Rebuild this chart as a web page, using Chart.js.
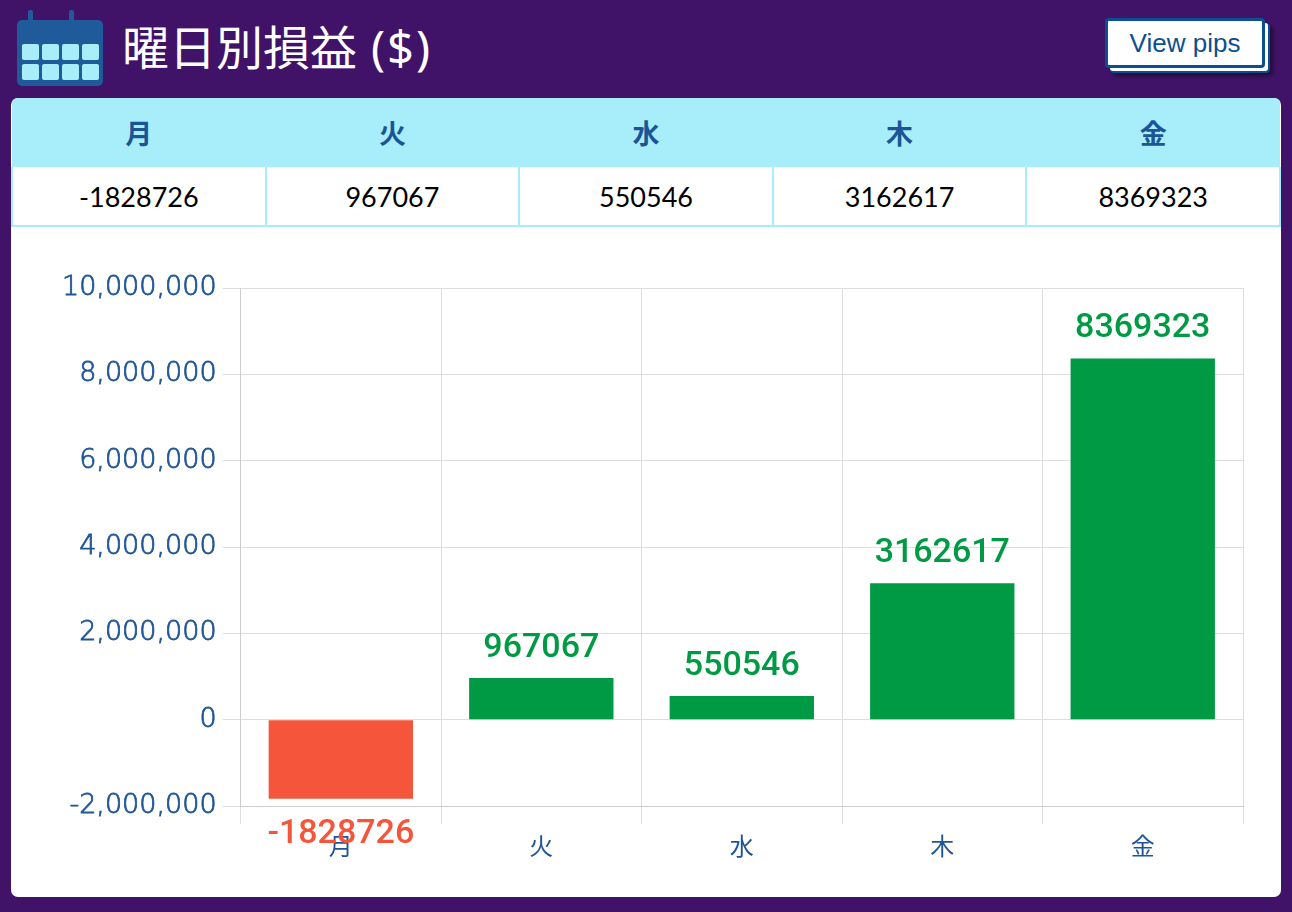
<!DOCTYPE html>
<html>
<head>
<meta charset="utf-8">
<script src="https://cdn.jsdelivr.net/npm/chart.js@4"></script>
<style>
  html, body { margin: 0; padding: 0; }
  body { width: 1292px; height: 912px; background: #411368; position: relative; overflow: hidden; font-family: "Noto Sans CJK JP", "Noto Sans", sans-serif; }
  .icon { position: absolute; left: 16px; top: 9px; }
  .title { position: absolute; left: 122px; top: 15px; color: #fff; font-size: 47px; line-height: 60px; font-family: "Noto Sans CJK JP", sans-serif; }
  .title span { font-family: "Noto Sans", sans-serif; font-weight: 400; margin-left: 14px; letter-spacing: 2px; }
  .btn { position: absolute; left: 1105px; top: 18px; width: 154px; height: 44px; background: #fff; border: 3px solid #0b4f8f; border-radius: 4px;
         box-shadow: 4px 4px 0 -1px #fff, 5px 5px 0 0 #0b4f8f, 8px 8px 4px rgba(0,0,0,0.45);
         color: #0b4f8f; font-family: "Liberation Sans", Arial, sans-serif; font-size: 26px; line-height: 44px; text-align: center; }
  .card { position: absolute; left: 11px; top: 98px; width: 1270px; height: 799px; background: #fff; border-radius: 7px; overflow: hidden; }
  table { border-collapse: collapse; width: 1270px; table-layout: fixed; }
  th { background: #a8eefa; color: #1b5596; height: 69px; font-size: 27px; font-weight: bold; font-family: "Noto Sans CJK JP", sans-serif; padding: 0; }
  td { height: 58px; border: 2px solid #a8eefa; border-top: none; text-align: center; font-size: 27px; color: #000; font-family: Lato, "Noto Sans", sans-serif; padding: 0; }
  .chartbox { position: absolute; left: 0; top: 129px; width: 1270px; height: 670px; }
</style>
</head>
<body>
<svg class="icon" width="90" height="80" viewBox="0 0 90 80">
  <rect x="1" y="11" width="86" height="66" rx="5" fill="#1f5a9a"/>
  <rect x="12" y="1" width="5" height="14" rx="2" fill="#1f5a9a"/>
  <rect x="53" y="1" width="5" height="14" rx="2" fill="#1f5a9a"/>
  <g fill="#a8eefa">
    <rect x="6" y="35" width="17" height="16" rx="2"/><rect x="26" y="35" width="17" height="16" rx="2"/>
    <rect x="46" y="35" width="17" height="16" rx="2"/><rect x="66" y="35" width="17" height="16" rx="2"/>
    <rect x="6" y="55" width="17" height="16" rx="2"/><rect x="26" y="55" width="17" height="16" rx="2"/>
    <rect x="46" y="55" width="17" height="16" rx="2"/><rect x="66" y="55" width="17" height="16" rx="2"/>
  </g>
</svg>
<div class="title">曜日別損益<span>($)</span></div>
<div class="btn">View pips</div>
<div class="card">
  <table>
    <thead><tr id="hdr"></tr></thead>
    <tbody><tr id="vals"></tr></tbody>
  </table>
  <div class="chartbox"><canvas id="grafico"></canvas></div>
</div>
<script>
// dados do gráfico
var dias = ["月", "火", "水", "木", "金"];
var lucros = [-1828726, 967067, 550546, 3162617, 8369323];
var y_min = -2000000;
var y_max = 10000000;
var y_passo = 2000000;

var verde = '#009a44';
var vermelho = '#f5553a';
var azul = '#1f5597';

// tabela
var hdr = document.getElementById("hdr");
var vals = document.getElementById("vals");
dias.forEach((d, i) => {
    var th = document.createElement("th");
    th.textContent = d;
    hdr.appendChild(th);
    var td = document.createElement("td");
    td.textContent = lucros[i];
    vals.appendChild(td);
});

// rótulos em cima das barras
var rotulos = {
    id: 'rotulos',
    afterDatasetsDraw(chart) {
        var ctx = chart.ctx;
        var meta = chart.getDatasetMeta(0);
        ctx.save();
        ctx.font = '500 34px Roboto, "Liberation Sans", sans-serif';
        ctx.textAlign = 'center';
        ctx.textBaseline = 'middle';
        meta.data.forEach((bar, i) => {
            var v = lucros[i];
            ctx.fillStyle = v < 0 ? vermelho : verde;
            ctx.fillText(String(v), bar.x, v < 0 ? bar.y + 36 : bar.y - 30);
        });
        ctx.restore();
    }
};

var grafico = new Chart(document.getElementById("grafico"), {
    type: 'bar',
    data: {
        labels: dias,
        datasets: [{
            data: lucros,
            backgroundColor: lucros.map(v => v < 0 ? vermelho : verde),
            borderWidth: 0
        }]
    },
    options: {
        responsive: true,
        maintainAspectRatio: false,
        animation: false,
        layout: { padding: { top: 61, left: 45, right: 38, bottom: 30 } },
        plugins: {
            legend: { display: false },
            tooltip: { enabled: false }
        },
        scales: {
            x: {
                grid: { color: '#dedede', tickLength: 18 },
                border: { color: '#cccccc' },
                ticks: { color: azul, font: { size: 24, family: '"Noto Sans CJK JP", sans-serif' }, padding: 7 }
            },
            y: {
                min: y_min,
                max: y_max,
                grid: { color: '#dedede', tickLength: 18 },
                border: { color: '#cccccc' },
                ticks: {
                    stepSize: y_passo,
                    color: azul,
                    textStrokeColor: azul,
                    textStrokeWidth: 0.8,
                    font: { size: 27, weight: '200', family: '"DejaVu Sans", sans-serif' },
                    padding: 6,
                    callback: v => v.toLocaleString('en-US')
                }
            }
        }
    },
    plugins: [rotulos]
});
</script>
</body>
</html>
